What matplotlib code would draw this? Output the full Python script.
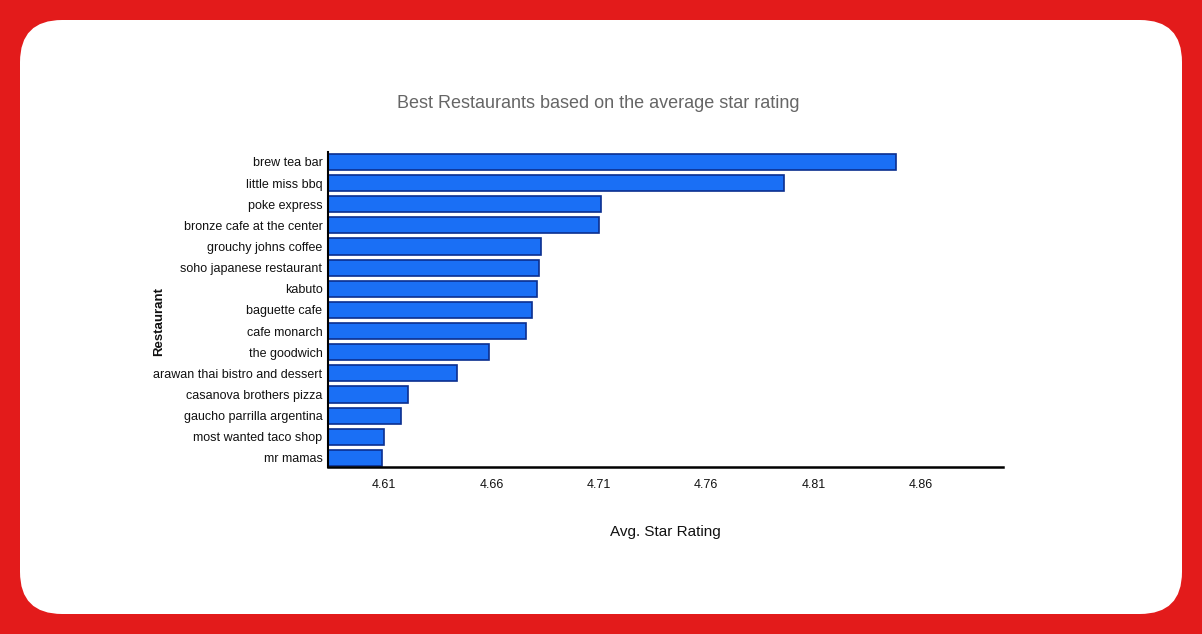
import matplotlib.pyplot as plt
from matplotlib.patches import FancyBboxPatch

restaurants = ["brew tea bar", "little miss bbq", "poke express", "bronze cafe at the center",
               "grouchy johns coffee", "soho japanese restaurant", "kabuto", "baguette cafe",
               "cafe monarch", "the goodwich", "arawan thai bistro and dessert",
               "casanova brothers pizza", "gaucho parrilla argentina", "most wanted taco shop",
               "mr mamas"]
ratings = [4.848, 4.796, 4.711, 4.710, 4.683, 4.682, 4.681, 4.679, 4.676, 4.659,
           4.644, 4.621, 4.618, 4.610, 4.609]
xticks = [4.61, 4.66, 4.71, 4.76, 4.81, 4.86]

fam = ['Liberation Sans', 'DejaVu Sans']

fig = plt.figure(figsize=(12.02, 6.34), dpi=100)
fig.patch.set_facecolor('#e31b1b')
card = FancyBboxPatch((20 / 1202, 20 / 634), 1162 / 1202, 594 / 634,
                      boxstyle="round,pad=0,rounding_size=0.035",
                      transform=fig.transFigure, facecolor='white', edgecolor='none',
                      mutation_aspect=1202 / 634, zorder=-5)
fig.patches.append(card)

ax = fig.add_axes([328 / 1202, 1 - 467 / 634, 675 / 1202, 315 / 634])
ax.set_zorder(2)
ax.set_facecolor('white')
ypos = list(range(len(restaurants)))
ax.barh(ypos, ratings, height=0.76, color='#1a6ff5', edgecolor='#0b2f8f', linewidth=1.2)
ax.set_xlim(4.584, 4.898)
ax.set_ylim(14.43, -0.47)
ax.set_yticks(ypos)
ax.set_yticklabels(restaurants, family=fam, fontsize=9, color='#111111')
ax.set_xticks(xticks)
ax.set_xticklabels([f"{t:.2f}" for t in xticks], family=fam, fontsize=9, color='#111111')
ax.tick_params(length=0, pad=4)
ax.tick_params(axis='x', pad=9)
for s in ['top', 'right']:
    ax.spines[s].set_visible(False)
ax.spines['left'].set_linewidth(1.5)
ax.spines['bottom'].set_linewidth(1.8)
ax.set_xlabel("Avg. Star Rating", family=fam, fontsize=11, color='#111111', labelpad=24)
ax.set_ylabel("Restaurant", family=fam, fontsize=9.5, fontweight='bold', color='#111111')
ax.yaxis.set_label_coords(-0.2415, 0.463)

fig.text(598 / 1202, 1 - 103 / 634, "Best Restaurants based on the average star rating",
         ha='center', va='center', family=fam, fontsize=13, color='#666666')

fig.savefig("out.png", dpi=100, facecolor=fig.get_facecolor())
